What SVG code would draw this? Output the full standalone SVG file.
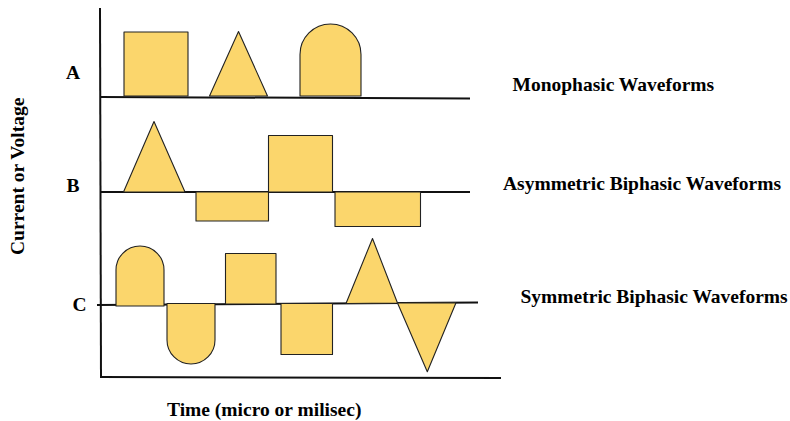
<svg xmlns="http://www.w3.org/2000/svg" width="790" height="421" viewBox="0 0 790 421">
<style>
.ax{stroke:#111;stroke-width:2;fill:none}
.sh{fill:#FBD66C;stroke:#222;stroke-width:1.1;stroke-linejoin:round}
.t{font-family:"Liberation Serif","Times New Roman",serif;font-weight:bold;font-size:19.5px;fill:#000}
</style>
<rect width="790" height="421" fill="#fff"/>
<g id="axes">
<line class="ax" x1="100" y1="8" x2="101" y2="378"/>
<line class="ax" x1="101" y1="377" x2="501" y2="378"/>
</g>
<g id="connectors">
<line class="ax" x1="100" y1="97" x2="470" y2="98.5"/>
<line class="ax" x1="100" y1="192" x2="470" y2="192"/>
<line class="ax" x1="97" y1="305" x2="478" y2="302.5"/>
</g>
<g id="rowA">
<rect class="sh" x="124" y="32" width="64" height="64"/>
<polygon class="sh" points="209.5,96 238.5,31.5 267.5,96"/>
<path class="sh" d="M300,96 V54.5 A30.5,30.5 0 0 1 361,54.5 V96 Z"/>
</g>
<g id="rowB">
<polygon class="sh" points="123.5,192 154,121.5 185,192"/>
<rect class="sh" x="196" y="192" width="72.5" height="29"/>
<rect class="sh" x="268.5" y="135.5" width="64" height="56.5"/>
<rect class="sh" x="335" y="192" width="85.5" height="34.5"/>
</g>
<g id="rowC">
<path class="sh" d="M116,306 V270 A24,24 0 0 1 164,270 V306 Z"/>
<path class="sh" d="M167,303.5 V340 A24,24 0 0 0 215,340 V303.5 Z"/>
<rect class="sh" x="225.5" y="253.5" width="50.5" height="50.5"/>
<rect class="sh" x="281" y="303.5" width="51.5" height="51"/>
<polygon class="sh" points="346,303.5 372.5,238.5 397.5,303"/>
<polygon class="sh" points="397.5,303 456,302.7 427.3,371.7"/>
</g>
<g id="labels">
<text class="t" x="66" y="79">A</text>
<text class="t" x="66.5" y="192">B</text>
<text class="t" x="72.5" y="311">C</text>
<text class="t" x="512.5" y="91">Monophasic Waveforms</text>
<text class="t" x="503" y="190">Asymmetric Biphasic Waveforms</text>
<text class="t" x="520.5" y="303">Symmetric Biphasic Waveforms</text>
<text class="t" x="167" y="416">Time (micro or milisec)</text>
<text class="t" transform="translate(24,255) rotate(-90)">Current or Voltage</text>
</g>
</svg>
